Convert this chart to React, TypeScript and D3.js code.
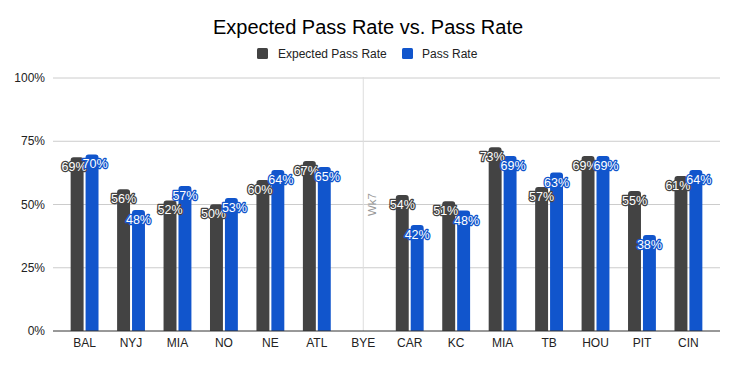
import React from 'react';
import * as d3 from 'd3';

// ─── Datos ────────────────────────────────────────────────────────────────────
const teams = ['BAL', 'NYJ', 'MIA', 'NO', 'NE', 'ATL', 'BYE', 'CAR', 'KC', 'MIA', 'TB', 'HOU', 'PIT', 'CIN'];
const expectedRate = [0.687, 0.56, 0.516, 0.501, 0.597, 0.672, null, 0.538, 0.513, 0.726, 0.569, 0.692, 0.553, 0.613];
const passRate = [0.698, 0.478, 0.573, 0.526, 0.636, 0.648, null, 0.419, 0.476, 0.692, 0.626, 0.692, 0.379, 0.636];
const yTicks = [0, 0.25, 0.5, 0.75, 1];
const seriesNames = ['Expected Pass Rate', 'Pass Rate'];
const seriesColors = ['#434343', '#1155cc'];
const byeMarker = { index: 6, label: 'Wk7' };

const W = 735;
const H = 365;
const m = { top: 78, right: 15, bottom: 34, left: 53 };
const FONT = '"Liberation Sans", Arial, sans-serif';

// barra con esquinas superiores redondeadas
function topRoundedRect(x: number, y: number, w: number, h: number, r: number) {
  const rr = Math.min(r, h, w / 2);
  return `M${x},${y + h}V${y + rr}Q${x},${y} ${x + rr},${y}H${x + w - rr}Q${x + w},${y} ${x + w},${y + rr}V${y + h}Z`;
}

export default function App() {
  const iW = W - m.left - m.right;
  const iH = H - m.top - m.bottom;

  const x = d3.scaleBand<string>()
    .domain(teams.map((_, i) => String(i)))
    .range([0, iW])
    .paddingInner(0.4)
    .paddingOuter(0.38);

  const xInner = d3.scaleBand<string>()
    .domain(['0', '1'])
    .range([0, x.bandwidth()])
    .paddingInner(0.133);

  const y = d3.scaleLinear().domain([0, 1]).range([iH, 0]);

  const series = [expectedRate, passRate];
  const fmt = (v: number) => `${Math.round(v * 100)}%`;

  return (
    <svg width={W} height={H} style={{ position: 'absolute', left: 0, top: 0, background: '#fff' }} fontFamily={FONT}>
      <text x={368} y={34} textAnchor="middle" fontSize={20} fill="#000">Expected Pass Rate vs. Pass Rate</text>

      {/* Leyenda */}
      <g fontSize={12} fill="#222">
        <rect x={257} y={48} width={11} height={11} rx={1.5} fill={seriesColors[0]} />
        <text x={278} y={58}>{seriesNames[0]}</text>
        <rect x={402} y={48} width={11} height={11} rx={1.5} fill={seriesColors[1]} />
        <text x={422} y={58}>{seriesNames[1]}</text>
      </g>

      <g transform={`translate(${m.left},${m.top})`}>
        {/* Rejilla */}
        {yTicks.map(t => (
          <g key={t}>
            {t > 0 && <line x1={0} x2={iW} y1={y(t)} y2={y(t)} stroke="#cccccc" strokeWidth={1} />}
            <text x={-8} y={y(t) + 4} textAnchor="end" fontSize={12} fill="#222">{`${Math.round(t * 100)}%`}</text>
          </g>
        ))}

        {/* Línea de semana bye */}
        {(() => {
          const bx = (x(String(byeMarker.index)) ?? 0) + x.bandwidth() / 2;
          return (
            <g>
              <line x1={bx} x2={bx} y1={-1} y2={iH} stroke="#dddddd" strokeWidth={1} />
              <text transform={`translate(${bx + 13},${y(0.5)}) rotate(-90)`} textAnchor="middle" fontSize={11.5} fill="#999">{byeMarker.label}</text>
            </g>
          );
        })()}

        {/* Barras */}
        {series.map((vals, s) => (
          <g key={s}>
            {vals.map((v, i) => v == null ? null : (
              <path
                key={i}
                d={topRoundedRect((x(String(i)) ?? 0) + (xInner(String(s)) ?? 0), y(v), xInner.bandwidth(), iH - y(v), 3)}
                fill={seriesColors[s]}
              />
            ))}
          </g>
        ))}

        {/* Eje X */}
        <line x1={0} x2={iW} y1={iH} y2={iH} stroke="#333" strokeWidth={1} />
        {teams.map((t, i) => (
          <text key={i} x={(x(String(i)) ?? 0) + x.bandwidth() / 2} y={iH + 16} textAnchor="middle" fontSize={12} fill="#222">{t}</text>
        ))}

        {/* Etiquetas */}
        {series.map((vals, s) => (
          <g key={s}>
            {vals.map((v, i) => {
              if (v == null) return null;
              const other = series[1 - s][i];
              const overlap = other != null && Math.abs(y(other) - y(v)) < 13;
              const shift = overlap ? (s === 0 ? -3 : 3) : 0;
              const cx = (x(String(i)) ?? 0) + (xInner(String(s)) ?? 0) + xInner.bandwidth() / 2 + shift;
              return (
                <text
                  key={i}
                  x={cx}
                  y={y(v) + 14}
                  textAnchor="middle"
                  fontSize={12.5}
                  fill="#ffffff"
                  stroke={seriesColors[s]}
                  strokeWidth={2.5}
                  strokeLinejoin="round"
                  style={{ paintOrder: 'stroke' }}
                >{fmt(v)}</text>
              );
            })}
          </g>
        ))}
      </g>
    </svg>
  );
}
